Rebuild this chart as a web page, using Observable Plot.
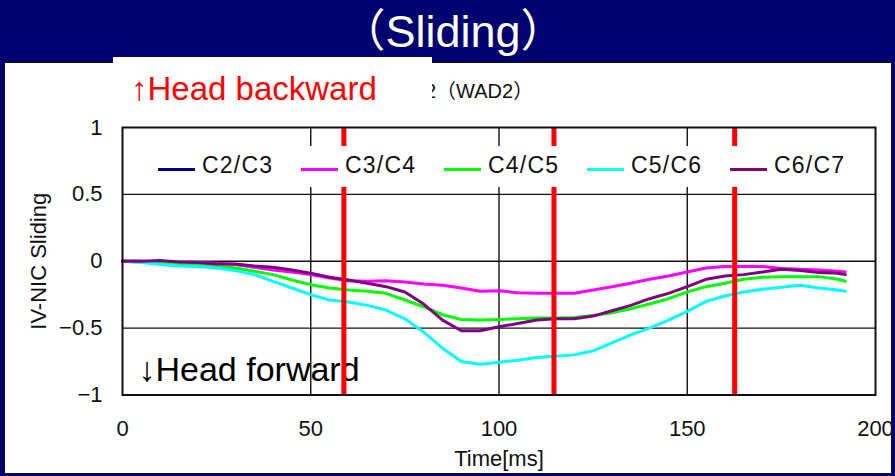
<!DOCTYPE html>
<html>
<head>
<meta charset="utf-8">
<script src="https://cdn.jsdelivr.net/npm/d3@7"></script>
<script src="https://cdn.jsdelivr.net/npm/@observablehq/plot@0.6"></script>
<style>
  html, body { margin: 0; padding: 0; background: #00006e; }
  #stage { position: relative; width: 895px; height: 476px; background: #00006e; overflow: hidden; font-family: "Liberation Sans", "Noto Sans CJK JP", sans-serif; }
  #title { position: absolute; left: 453px; top: 9px; transform: translateX(-50%); color: #fff; font-size: 45px; line-height: 45px; white-space: nowrap; }
  #panel { position: absolute; left: 5px; top: 63px; width: 886px; height: 410px; outline: 1.5px solid #111; background: #fff; overflow: hidden; }
  #panel svg { position: absolute; left: 0; top: 0; }
  #subtitle { position: absolute; left: 425px; top: 81px; font-size: 20px; line-height: 20px; color: #111; white-space: nowrap; }
  #backBox { position: absolute; left: 113px; top: 57px; width: 319px; height: 52px; background: #fff; }
  #backText { position: absolute; left: 131px; top: 72px; font-size: 33px; line-height: 33px; color: #ff0000; white-space: nowrap; }
  #legend { position: absolute; left: 140px; top: 146px; width: 720px; height: 41px; background: #fff; }
  .sw { position: absolute; height: 3px; width: 37px; top: 22px; }
  .lt { position: absolute; top: 8px; font-size: 23px; line-height: 23px; letter-spacing: 1.2px; color: #111; white-space: nowrap; }
</style>
</head>
<body>
<div id="stage">
  <div id="title">（Sliding）</div>
  <div id="panel"></div>
  <div id="subtitle">2（WAD2）</div>
  <div id="backBox"></div>
  <div id="backText">↑Head backward</div>
  <div id="legend"></div>
</div>
<script>
const times = [0,5,10,15,20,25,30,35,40,45,50,55,60,65,70,75,80,85,90,95,100,105,110,115,120,125,130,135,140,145,150,155,160,165,170,175,180,185,190,192];
const c23 = [0,0,null,null,null,null,null,null,null,null,null,null,null,null,null,null,null,null,null,null,null,null,null,null,null,null,null,null,null,null,null,null,null,null,null,null,null,null,null,null];
const c34 = [0,0,-0.005,-0.01,-0.01,-0.015,-0.025,-0.045,-0.065,-0.08,-0.10,-0.125,-0.145,-0.15,-0.145,-0.155,-0.17,-0.18,-0.20,-0.225,-0.22,-0.235,-0.24,-0.24,-0.24,-0.215,-0.19,-0.165,-0.135,-0.11,-0.08,-0.05,-0.04,-0.04,-0.04,-0.055,-0.06,-0.065,-0.075,-0.08];
const c45 = [0,-0.005,-0.015,-0.02,-0.03,-0.035,-0.05,-0.075,-0.10,-0.14,-0.175,-0.20,-0.215,-0.225,-0.24,-0.29,-0.34,-0.40,-0.435,-0.44,-0.435,-0.43,-0.425,-0.425,-0.42,-0.405,-0.385,-0.355,-0.32,-0.28,-0.23,-0.19,-0.165,-0.135,-0.12,-0.115,-0.115,-0.115,-0.135,-0.15];
const c56 = [0,-0.01,-0.025,-0.035,-0.04,-0.05,-0.07,-0.10,-0.15,-0.20,-0.25,-0.29,-0.305,-0.33,-0.365,-0.43,-0.53,-0.65,-0.75,-0.77,-0.755,-0.74,-0.72,-0.71,-0.70,-0.67,-0.61,-0.55,-0.50,-0.44,-0.375,-0.30,-0.26,-0.23,-0.21,-0.195,-0.18,-0.20,-0.215,-0.225];
const c67 = [0,0,0.005,-0.005,-0.01,-0.02,-0.02,-0.035,-0.045,-0.065,-0.09,-0.12,-0.14,-0.165,-0.19,-0.23,-0.32,-0.44,-0.52,-0.52,-0.49,-0.465,-0.44,-0.43,-0.43,-0.41,-0.37,-0.33,-0.28,-0.24,-0.19,-0.135,-0.11,-0.10,-0.08,-0.06,-0.07,-0.085,-0.09,-0.10];
const seriesNames = ["C2/C3","C3/C4","C4/C5","C5/C6","C6/C7"];
const seriesColors = ["#000080","#ff00ff","#00ff00","#00ffff","#800080"];
const seriesValues = [c23, c34, c45, c56, c67];
const redTimes = [58.8, 114.6, 162.6];
const xTicks = [0,50,100,150,200];
const yTicks = [-1,-0.5,0,0.5,1];

const fmt = d => String(d).replace("-", "\u2212");
const table = seriesNames.map((name, i) => times.map((t, j) => ({series: name, t, v: seriesValues[i][j]})));

const chart = Plot.plot({
  width: 886, height: 410,
  marginLeft: 117, marginRight: 16, marginTop: 64, marginBottom: 78.5,
  style: {background: "transparent", fontFamily: "Liberation Sans, sans-serif", fontSize: "22px", color: "#111", overflow: "visible"},
  x: {domain: [0, 200]},
  y: {domain: [-1, 1]},
  marks: [
    Plot.gridX([50,100,150], {stroke: "#111", strokeOpacity: 1, strokeWidth: 1.4}),
    Plot.gridY([-0.5,0,0.5], {stroke: "#111", strokeOpacity: 1, strokeWidth: 1.4}),
    ...table.map((rows, i) => Plot.line(rows, {x: "t", y: "v", stroke: seriesColors[i], strokeWidth: 3})),
    Plot.text(["↓Head forward"], {frameAnchor: "bottom-left", textAnchor: "start", lineAnchor: "middle", dx: 16, dy: -25, fontSize: 34, fill: "#000"}),
    Plot.ruleX(redTimes, {stroke: "#ff0000", strokeWidth: 5}),
    Plot.frame({stroke: "#111", strokeWidth: 2}),
    Plot.axisX({ticks: xTicks, tickFormat: fmt, tickSize: 0, tickPadding: 25, fontSize: 22, label: null}),
    Plot.axisX({ticks: [], label: "Time[ms]", labelAnchor: "center", labelOffset: 71, labelArrow: "none", fontSize: 22, tickSize: 0}),
    Plot.axisY({ticks: yTicks, tickFormat: fmt, tickSize: 0, tickPadding: 20, label: "IV-NIC Sliding", labelAnchor: "center", labelOffset: 92, labelArrow: "none", fontSize: 22})
  ]
});
document.getElementById("panel").appendChild(chart);

const legend = document.getElementById("legend");
seriesNames.forEach((name, i) => {
  const sw = document.createElement("div");
  sw.className = "sw";
  sw.style.left = (18 + i * 143) + "px";
  sw.style.background = seriesColors[i];
  legend.appendChild(sw);
  const lt = document.createElement("div");
  lt.className = "lt";
  lt.style.left = (62 + i * 143) + "px";
  lt.textContent = name;
  legend.appendChild(lt);
});
</script>
</body>
</html>
